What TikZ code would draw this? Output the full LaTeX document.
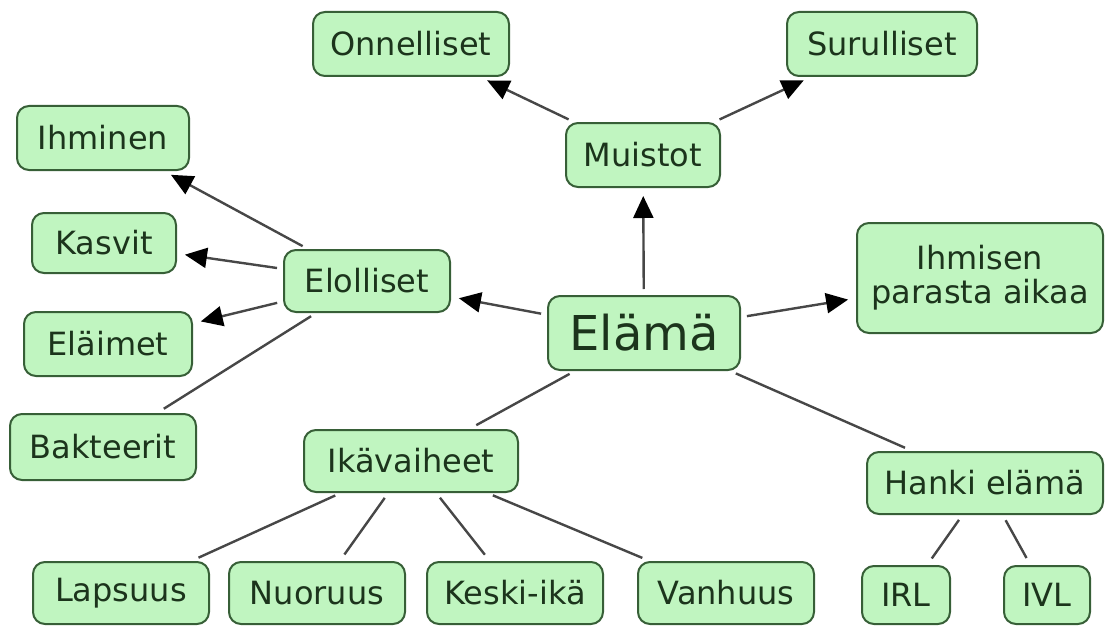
\documentclass[tikz,border=0pt]{standalone}
\usepackage{fontspec}
\setmainfont{DejaVu Sans}
\usetikzlibrary{arrows.meta}
\definecolor{boxfill}{RGB}{192,245,192}
\definecolor{boxline}{RGB}{55,95,55}
\definecolor{boxtext}{RGB}{28,52,28}
\begin{document}
\begin{tikzpicture}[x=0.5pt,y=-0.5pt,
   box/.style={draw=boxline,fill=boxfill,line width=1pt,rounded corners=6pt,inner sep=0pt,align=center,
     minimum height=31pt,font=\fontsize{16}{17}\selectfont,text=boxtext},
   link/.style={draw=black!72,line width=1.2pt,shorten <=3pt,shorten >=4pt},
   arr/.style={link,-{Triangle[length=11pt,width=10pt,color=black]}}]
   \useasboundingbox (0,0) rectangle (1107,631);
   % top
   \node[box,minimum width=98pt,minimum height=32pt] (onn) at (411,44) {Onnelliset};
   \node[box,minimum width=95pt,minimum height=32pt] (sur) at (882,44) {Surulliset};
   \node[box,minimum width=77pt,minimum height=32pt] (mui) at (643,155) {Muistot};
   % left
   \node[box,minimum width=86pt,minimum height=32pt] (ihm) at (103,138) {Ihminen};
   \node[box,minimum width=72pt,minimum height=30pt] (kas) at (104,243) {Kasvit};
   \node[box,minimum width=84pt,minimum height=32pt] (ela) at (108,344) {Eläimet};
   \node[box,minimum width=93pt,minimum height=33pt] (bak) at (103,447) {Bakteerit};
   \node[box,minimum width=83pt] (elo) at (367,281) {Elolliset};
   % centre
   \node[box,minimum width=96pt,minimum height=37pt,font=\fontsize{24}{26}\selectfont] (elama) at (644,333) {Elämä};
   \node[box,minimum width=123pt,minimum height=55pt] (par) at (980,278) {Ihmisen\\parasta aikaa};
   \node[box,minimum width=107pt] (ika) at (411,461) {Ikävaiheet};
   \node[box,minimum width=118pt] (han) at (985,483) {Hanki elämä};
   % bottom
   \node[box,minimum width=88pt] (lap) at (121,593) {Lapsuus};
   \node[box,minimum width=88pt] (nuo) at (317,593) {Nuoruus};
   \node[box,minimum width=88pt] (kes) at (515,593) {Keski-ikä};
   \node[box,minimum width=88pt] (van) at (726,593) {Vanhuus};
   \node[box,minimum width=44pt,minimum height=29pt] (irl) at (906,595) {IRL};
   \node[box,minimum width=43pt,minimum height=29pt] (ivl) at (1047,595) {IVL};
   % connectors
   \draw[arr] (mui)--(onn);\draw[arr] (mui)--(sur);\draw[arr] (elama)--(mui);
   \draw[arr] (elo)--(ihm);\draw[arr] (elo)--(kas);\draw[arr] (elo)--(ela);\draw[link] (elo)--(bak);
   \draw[arr] (elama)--(elo);\draw[arr] (elama)--(par);
   \draw[link] (elama)--(ika);\draw[link] (elama)--(han);
   \draw[link] (ika)--(lap);\draw[link] (ika)--(nuo);\draw[link] (ika)--(kes);\draw[link] (ika)--(van);
   \draw[link] (han)--(irl);\draw[link] (han)--(ivl);
\end{tikzpicture}
\end{document}
